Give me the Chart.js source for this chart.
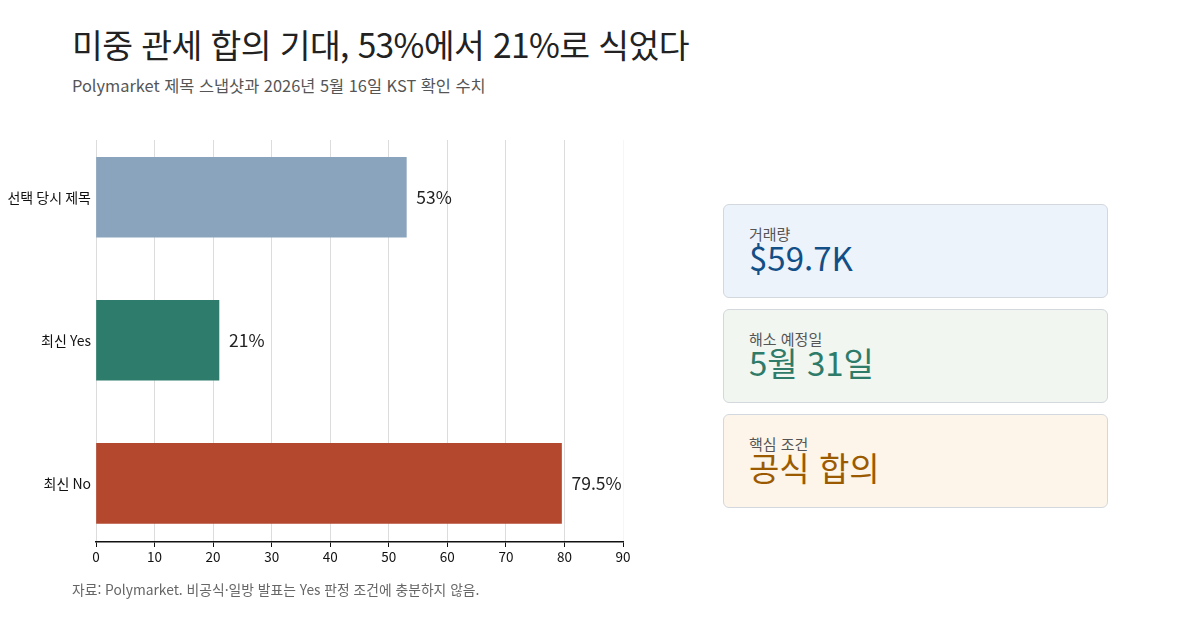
<!DOCTYPE html>
<html lang="ko">
<head>
<meta charset="UTF-8">
<title>미중 관세 합의 기대</title>
<script src="https://cdn.jsdelivr.net/npm/chart.js"></script>
<style>
    body {
        margin: 0;
        width: 1200px;
        height: 630px;
        background: #fff;
        font-family: "Noto Sans CJK KR", "Noto Sans", sans-serif;
        position: relative;
        overflow: hidden;
    }
    h1 {
        position: absolute;
        left: 72px;
        top: 19px;
        margin: 0;
        font-size: 33.5px;
        font-weight: 400;
        color: #222;
        letter-spacing: -0.6px;
    }
    .sub {
        position: absolute;
        left: 72px;
        top: 73px;
        font-size: 16.4px;
        color: #555;
    }
    .chart-box {
        position: absolute;
        left: 0;
        top: 0;
        width: 640px;
        height: 630px;
    }
    .note {
        position: absolute;
        left: 72px;
        top: 579px;
        font-size: 13.8px;
        color: #666;
    }
    .card {
        position: absolute;
        left: 723px;
        width: 385px;
        height: 94px;
        border: 1.5px solid #d3d8de;
        border-radius: 6px;
        box-sizing: border-box;
    }
    .card .lab {
        position: absolute;
        left: 25px;
        top: 18px;
        font-size: 15px;
        color: #555;
    }
    .card .val {
        position: absolute;
        left: 25px;
        top: 30px;
        font-size: 33px;
        line-height: 44px;
    }
</style>
</head>
<body>

<h1>미중 관세 합의 기대, 53%에서 21%로 식었다</h1>
<div class="sub">Polymarket 제목 스냅샷과 2026년 5월 16일 KST 확인 수치</div>

<div class="chart-box"><canvas id="chart"></canvas></div>

<div class="note">자료: Polymarket. 비공식·일방 발표는 Yes 판정 조건에 충분하지 않음.</div>

<div class="card" style="top:204px;background:#edf3fb;">
    <div class="lab">거래량</div>
    <div class="val" style="color:#124f86;">$59.7K</div>
</div>
<div class="card" style="top:309px;background:#f1f6f1;">
    <div class="lab">해소 예정일</div>
    <div class="val" style="color:#2e7b69;">5월 31일</div>
</div>
<div class="card" style="top:414px;background:#fdf5e9;">
    <div class="lab">핵심 조건</div>
    <div class="val" style="color:#9c5a00;">공식 합의</div>
</div>

<script>
    // 데이터
    const categories = ['선택 당시 제목', '최신 Yes', '최신 No'];
    const values = [53, 21, 79.5];
    const valueLabels = ['53%', '21%', '79.5%'];
    const barColors = ['#8aa4bd', '#2e7d6c', '#b3482f'];
    const xTicks = [0, 10, 20, 30, 40, 50, 60, 70, 80, 90];

    const font = '"Noto Sans CJK KR", "Noto Sans", sans-serif';

    // 막대 끝에 값 표시
    const valueLabelPlugin = {
        id: 'valueLabels',
        afterDatasetsDraw(chart) {
            const ctx = chart.ctx;
            const meta = chart.getDatasetMeta(0);
            ctx.save();
            ctx.font = '17.5px ' + font;
            ctx.fillStyle = '#222';
            ctx.textAlign = 'left';
            ctx.textBaseline = 'middle';
            meta.data.forEach((bar, i) => {
                ctx.fillText(valueLabels[i], bar.x + 10, bar.y);
            });
            ctx.restore();
        }
    };

    new Chart(document.getElementById('chart'), {
        type: 'bar',
        data: {
            datasets: [{
                data: values.map((v, i) => ({ x: v, y: i })),
                backgroundColor: barColors,
                barThickness: 80
            }]
        },
        options: {
            indexAxis: 'y',
            responsive: true,
            maintainAspectRatio: false,
            animation: false,
            layout: { padding: { top: 140, left: 0, right: 17, bottom: 58 } },
            plugins: {
                legend: { display: false },
                tooltip: { enabled: false }
            },
            scales: {
                x: {
                    type: 'linear',
                    min: 0,
                    max: 90,
                    afterBuildTicks: s => { s.ticks = xTicks.map(v => ({ value: v })); },
                    afterFit: s => { s.height = 30; },
                    grid: {
                        // 마지막 눈금선은 거의 안 보이게
                        color: c => (c.tick && c.tick.value === 90 ? '#f6f6f6' : '#dcdcdc'),
                        lineWidth: 1,
                        tickColor: '#111',
                        tickLength: 5
                    },
                    border: { display: true, color: '#111', width: 1.5 },
                    ticks: {
                        color: '#111',
                        font: { family: font, size: 13.5 },
                        padding: 2
                    }
                },
                y: {
                    type: 'linear',
                    reverse: true,
                    offset: false,
                    bounds: 'data',
                    min: -0.4,
                    max: 2.41,
                    afterBuildTicks: s => { s.ticks = categories.map((c, i) => ({ value: i })); },
                    afterFit: s => { s.width = 96; },
                    grid: { display: false, drawTicks: false, tickLength: 0 },
                    border: { display: false },
                    ticks: {
                        color: '#111',
                        font: { family: font, size: 14 },
                        padding: 5,
                        callback: v => categories[v]
                    }
                }
            }
        },
        plugins: [valueLabelPlugin]
    });
</script>
</body>
</html>
